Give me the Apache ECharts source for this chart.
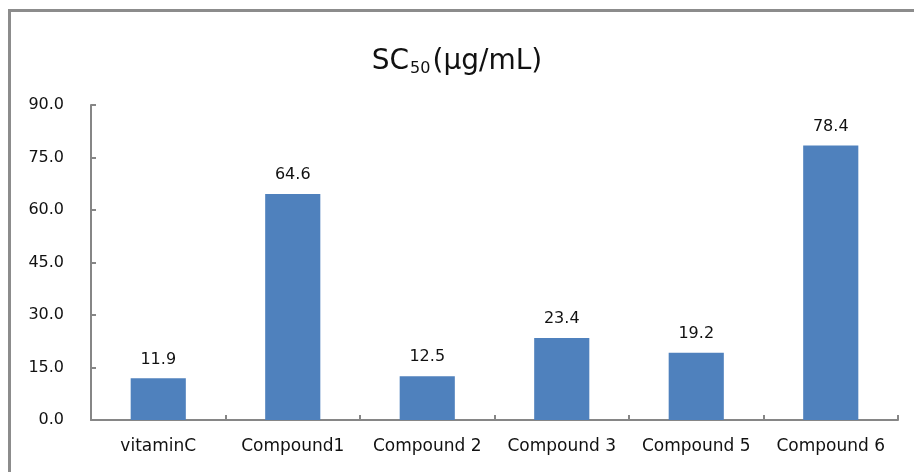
<!DOCTYPE html>
<html>
<head>
<meta charset="utf-8">
<script src="https://cdn.jsdelivr.net/npm/echarts@6/dist/echarts.min.js"></script>
<style>
  html, body { margin: 0; padding: 0; background: #fff; }
  #chart { width: 914px; height: 472px; }
</style>
</head>
<body>
<div id="chart"></div>
<script>
// Categories and SC50 values (μg/mL)
const categories = ['vitaminC', 'Compound1', 'Compound 2', 'Compound 3', 'Compound 5', 'Compound 6'];
const sc50Values = [11.9, 64.6, 12.5, 23.4, 19.2, 78.4];
const yTicks = { min: 0, max: 90, interval: 15 };

const FONT = '"DejaVu Sans", "Open Sans", sans-serif';
const AXIS_GRAY = '#868686';
const TEXT = '#111';

const chart = echarts.init(document.getElementById('chart'), null, { renderer: 'canvas' });

chart.setOption({
  backgroundColor: '#ffffff',
  animation: false,
  title: {
    text: '{main|SC}{sub|50}{main|(μg/mL)}',
    left: 'center',
    top: 42,
    textStyle: {
      rich: {
        main: { fontFamily: FONT, fontSize: 28, lineHeight: 30, color: TEXT, fontWeight: 'normal' },
        sub: { fontFamily: FONT, fontSize: 16, lineHeight: 11, color: TEXT, fontWeight: 'normal', verticalAlign: 'bottom', padding: [0, 2, 0, 1] }
      }
    }
  },
  graphic: [{
    type: 'rect',
    shape: { x: 9.5, y: 10.5, width: 1200, height: 1200 },
    style: { fill: 'none', stroke: '#8c8c8c', lineWidth: 3 },
    silent: true
  }],
  grid: { left: 91, right: 16, top: 105, bottom: 52 },
  xAxis: {
    type: 'category',
    data: categories,
    axisLine: { show: true, lineStyle: { color: AXIS_GRAY, width: 2 } },
    axisTick: { show: true, inside: true, length: 5, alignWithLabel: false, lineStyle: { color: AXIS_GRAY, width: 2 } },
    axisLabel: { margin: 18, fontFamily: FONT, fontSize: 17, color: TEXT, interval: 0 }
  },
  yAxis: {
    type: 'value',
    min: yTicks.min,
    max: yTicks.max,
    interval: yTicks.interval,
    axisLine: { show: true, lineStyle: { color: AXIS_GRAY, width: 2 } },
    axisTick: { show: true, inside: true, length: 5, lineStyle: { color: AXIS_GRAY, width: 2 } },
    splitLine: { show: false },
    axisLabel: {
      margin: 27,
      fontFamily: FONT,
      fontSize: 16,
      color: TEXT,
      padding: [5, 0, 0, 0],
      formatter: v => v.toFixed(1)
    }
  },
  series: [{
    type: 'bar',
    data: sc50Values,
    barWidth: '41%',
    itemStyle: { color: '#4f81bd' },
    label: {
      show: true,
      position: 'top',
      distance: 11,
      fontFamily: FONT,
      fontSize: 16,
      color: TEXT,
      formatter: p => p.value.toFixed(1)
    }
  }]
});
</script>
</body>
</html>
